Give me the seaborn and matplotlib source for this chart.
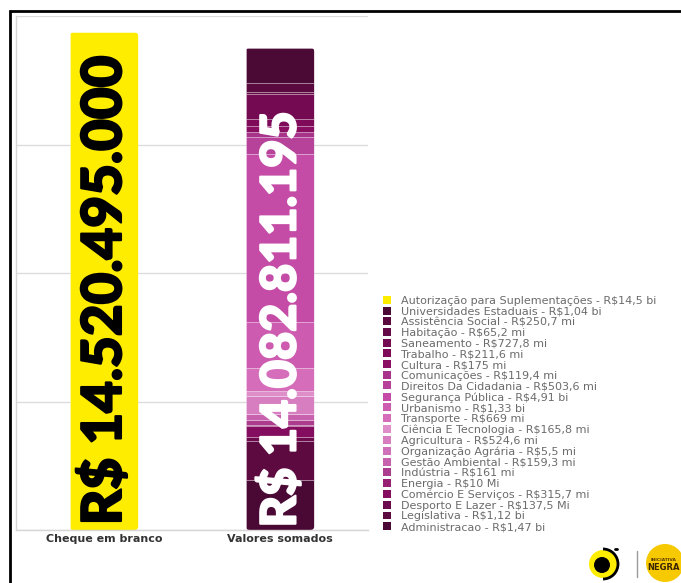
import matplotlib
matplotlib.use("Agg")
import matplotlib.pyplot as plt
import matplotlib.patheffects as pe
import seaborn as sns
import pandas as pd
from matplotlib.patches import Patch, Rectangle, Circle, Arc, FancyBboxPatch

# --- data -------------------------------------------------------------
groups = ["Cheque em branco", "Valores somados"]
bar_totals = ["R$ 14.520.495.000", "R$ 14.082.811.195"]

categories = [
    "Autorização para Suplementações",
    "Universidades Estaduais",
    "Assistência Social",
    "Habitação",
    "Saneamento",
    "Trabalho",
    "Cultura",
    "Comunicações",
    "Direitos Da Cidadania",
    "Segurança Pública",
    "Urbanismo",
    "Transporte",
    "Ciência E Tecnologia",
    "Agricultura",
    "Organização Agrária",
    "Gestão Ambiental",
    "Indústria",
    "Energia",
    "Comércio E Serviços",
    "Desporto E Lazer",
    "Legislativa",
    "Administracao",
]
# values in R$ billions
values_bi = [14.520495, 1.04, 0.2507, 0.0652, 0.7278, 0.2116, 0.175, 0.1194,
             0.5036, 4.91, 1.33, 0.669, 0.1658, 0.5246, 0.0055, 0.1593,
             0.161, 0.01, 0.3157, 0.1375, 1.12, 1.47]
value_labels = ["R$14,5 bi", "R$1,04 bi", "R$250,7 mi", "R$65,2 mi",
                "R$727,8 mi", "R$211,6 mi", "R$175 mi", "R$119,4 mi",
                "R$503,6 mi", "R$4,91 bi", "R$1,33 bi", "R$669 mi",
                "R$165,8 mi", "R$524,6 mi", "R$5,5 mi", "R$159,3 mi",
                "R$161 mi", "R$10 Mi", "R$315,7 mi", "R$137,5 Mi",
                "R$1,12 bi", "R$1,47 bi"]
group_of = [0] + [1] * 21
colors = ["#FFED00", "#4B0A35", "#5A0A3F", "#660A47", "#740A52", "#7F0A5A",
          "#8A0E62", "#A8338B", "#B6429A", "#C44CA6", "#CD5CB1", "#D56DBA",
          "#DE8EC9", "#D77EC0", "#D070B8", "#C862AE", "#AC3C8D", "#962173",
          "#840D5F", "#6D0A4D", "#5C0A40", "#4A0834"]

df = pd.DataFrame({"pos": group_of, "categoria": categories, "valor": values_bi})

# --- figure -----------------------------------------------------------
sns.set_theme(style="white")
plt.rcParams["font.family"] = ["DejaVu Sans"]

fig = plt.figure(figsize=(6.81, 5.83), dpi=100)
W, H = 681, 583
ax_w, ax_h = 352, 514
ax = fig.add_axes([16 / W, 53 / H, ax_w / W, ax_h / H])

sns.histplot(data=df, x="pos", weights="valor", hue="categoria",
             hue_order=categories, palette=dict(zip(categories, colors)),
             multiple="stack", discrete=True, shrink=0.39,
             edgecolor=(1, 1, 1, 0.45), linewidth=0.4, alpha=1,
             legend=False, ax=ax)

# drop empty bins left over from the shared bin edges
for p in list(ax.patches):
    if p.get_height() == 0:
        p.remove()

ax.set_xlim(-0.5, 1.5)
ax.set_ylim(0, 15)

# round the corners of each stacked column by clipping its segments
x_unit = ax_w / 2.0      # pixels per x data unit
y_unit = ax_h / 15.0     # pixels per y data unit
radius_px = 4
bars = list(ax.patches)
for g in (0, 1):
    segs = [p for p in bars if abs(p.get_x() + p.get_width() / 2 - g) < 0.3]
    if not segs:
        continue
    x0 = segs[0].get_x()
    w = segs[0].get_width()
    y0 = min(p.get_y() for p in segs)
    y1 = max(p.get_y() + p.get_height() for p in segs)
    clip = FancyBboxPatch((x0, y0), w, y1 - y0,
                          boxstyle=f"round,pad=0,rounding_size={radius_px / x_unit}",
                          mutation_aspect=x_unit / y_unit,
                          transform=ax.transData, facecolor="none",
                          edgecolor="none")
    for p in segs:
        p.set_clip_path(clip)

ax.set_yticks([0, 3.75, 7.5, 11.25, 15])
ax.yaxis.grid(True, color="#dcdcdc", linewidth=1)
ax.set_axisbelow(True)
ax.tick_params(axis="y", length=0, labelleft=False)
ax.set_xticks([0, 1])
ax.set_xticklabels(groups, fontsize=8, fontweight="bold", color="#333333")
ax.tick_params(axis="x", length=0, pad=3)
ax.set_xlabel("")
ax.set_ylabel("")
for side in ("top", "right"):
    ax.spines[side].set_visible(False)
for side in ("left", "bottom"):
    ax.spines[side].set_color("#d6d6d6")
    ax.spines[side].set_linewidth(1)

# totals written along each bar
ax.text(0, 7.0, bar_totals[0], rotation=90, ha="center", va="center",
        fontsize=39.5, fontweight="black", family=["Lato", "DejaVu Sans"],
        color="black", parse_math=False,
        path_effects=[pe.withStroke(linewidth=1.5, foreground="black")])
ax.text(1, 6.15, bar_totals[1], rotation=90, ha="center", va="center",
        fontsize=35, fontweight="black", family=["Lato", "DejaVu Sans"],
        color="white", parse_math=False,
        path_effects=[pe.withStroke(linewidth=1.5, foreground="white")])

# legend
handles = [Patch(facecolor=c, edgecolor="none") for c in colors]
labels = [f"{c} - {v}".replace("$", r"\$") for c, v in zip(categories, value_labels)]
fig.legend(handles, labels, loc="upper left",
           bbox_to_anchor=(383 / W, 1 - 296 / H), frameon=False,
           fontsize=8.05, handlelength=0.72, handleheight=0.72,
           handletextpad=0.85, labelspacing=0.06, borderaxespad=0,
           borderpad=0, labelcolor="#6b6b6b")

# outer frame
fig.add_artist(Rectangle((10 / W, -0.1), 1.0, 1 - 11 / H + 0.1,
                         transform=fig.transFigure, fill=False,
                         edgecolor="black", linewidth=2, clip_on=False))

# logos
lax = fig.add_axes([575 / W, 0, 106 / W, 40 / H])
lax.set_xlim(0, 106)
lax.set_ylim(0, 40)
lax.axis("off")
lax.add_patch(Circle((28, 19), 14, facecolor="#FFED00", edgecolor="none"))
lax.add_patch(Circle((27, 18), 8, facecolor="black", edgecolor="none"))
lax.add_patch(Arc((28, 19), 30, 30, theta1=-90, theta2=90, color="black", lw=2))
lax.plot([40, 42], [34, 34], color="black", lw=2)
lax.plot([62, 62], [6, 32], color="#9a9a9a", lw=1)
lax.add_patch(Circle((90, 20), 19, facecolor="#F7C900", edgecolor="none"))
lax.text(89, 23, "INICIATIVA", fontsize=3.2, color="#5a3a00", ha="center",
         va="center", fontweight="bold")
lax.text(89, 15, "NEGRA", fontsize=6, color="#3a2400", ha="center",
         va="center", fontweight="bold")

fig.savefig("out.png", dpi=100)
